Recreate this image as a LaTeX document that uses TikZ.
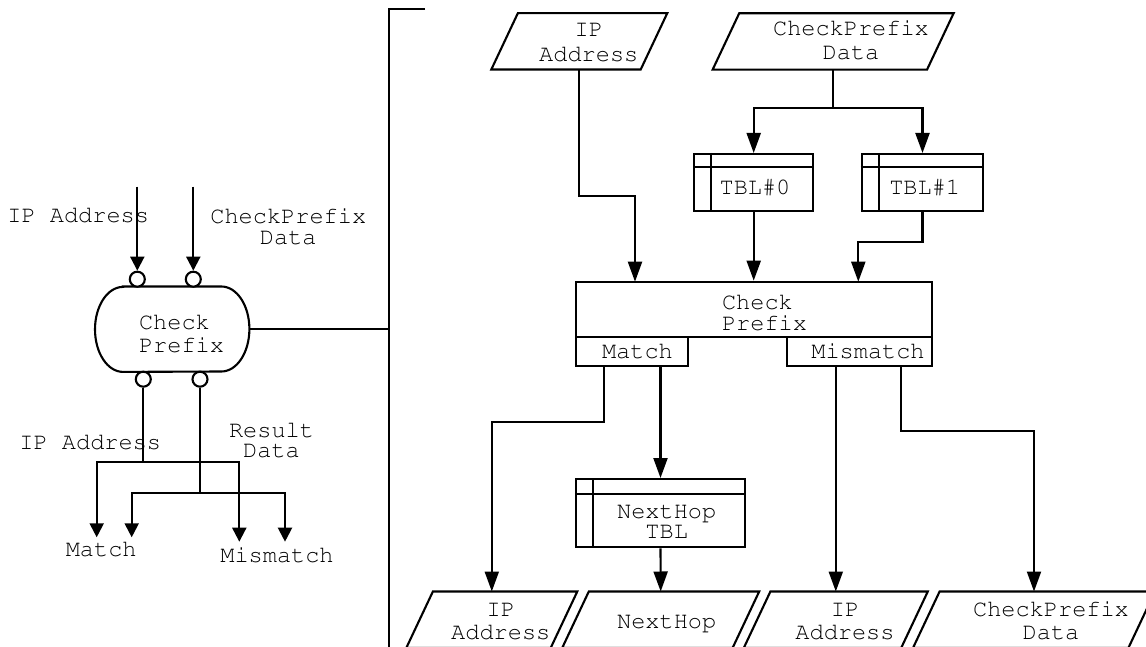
\documentclass[tikz,border=0pt]{standalone}
\usepackage[T1]{fontenc}
\usepackage{courier}
\usetikzlibrary{arrows.meta,calc}

\tikzset{
  lw/.style={line width=2.1pt},
  txt/.style={font=\ttfamily\fontsize{23.6pt}{#1}\selectfont, inner sep=0pt, align=center},
  txt/.default=22pt,
  lab/.style={font=\ttfamily\fontsize{23.6pt}{22pt}\selectfont, inner sep=0pt, anchor=base},
  procbox/.style={draw, lw, rectangle, inner sep=0pt},
  para/.style={rectangle, inner sep=0pt, minimum height=56pt},
  port/.style={draw, lw, circle, inner sep=0pt, minimum size=15pt, fill=white},
  arR/.style={lw, -{Triangle[length=20pt,width=14pt]}},
  arL/.style={lw, -{Triangle[length=14pt,width=14pt]}},
}

% slanted data box: name, centre, top-edge length
\newcommand\slantbox[3]{%
  \node[para, minimum width=#3] (#1) at (#2) {};
  \draw[lw] ([xshift=13.3pt]#1.north west) -- ([xshift=13.3pt]#1.north east)
    -- ([xshift=-13.3pt]#1.south east) -- ([xshift=-13.3pt]#1.south west) -- cycle;}

% table box with header strip and index column
\newcommand\tablebox[5]{%
  \node[procbox, minimum width=#3, minimum height=#4] (#1) at (#2) {};
  \draw[lw] ([yshift=-#5]#1.north west) -- ([yshift=-#5]#1.north east);
  \draw[lw] ([xshift=18pt]#1.north west) -- ([xshift=18pt]#1.south west);}

\begin{document}
\begin{tikzpicture}[x=1pt, y=-1pt]
\useasboundingbox (0,0) rectangle (1146,647);

% ---------- compact symbol on the left ----------
\node[rectangle, inner sep=0pt, minimum width=154pt, minimum height=85pt] (cpf) at (172.2,329.2) {};
\draw[lw] ([xshift=28pt]cpf.north west) -- ([xshift=-28pt]cpf.north east)
  arc[start angle=90, end angle=-90, x radius=28pt, y radius=42.5pt]
  -- ([xshift=28pt]cpf.south west)
  arc[start angle=270, end angle=90, x radius=28pt, y radius=42.5pt] -- cycle;
\node[txt=22.7pt, align=left] (cpf-t) at (181.5,333.9) {Check\\Prefix};

\node[port] (pin1) at (137.3,279.2) {};
\node[port] (pin2) at (193.3,279.2) {};
\node[port] (pout1) at (143.3,379.2) {};
\node[port] (pout2) at (200,379.2) {};

\coordinate (src1) at (137.3,186.7);
\coordinate (src2) at (193.3,186.7);
\draw[arL] (src1) -- (pin1.north);
\draw[arL] (src2) -- (pin2.north);

\node[lab] (lIP) at (78.2,223) {IP Address};
\node[txt=21pt] (lCP) at (288.3,226.4) {CheckPrefix\\Data};

\coordinate (j1) at (143.3,461.7);
\coordinate (j2) at (200,493.3);
\coordinate (m1) at (96.7,537.3);
\coordinate (m2) at (131.7,537.3);
\coordinate (x1) at (239.3,541.7);
\coordinate (x2) at (285,541.7);
\draw[lw] (pout1.south) -- (j1);
\draw[lw] (pout2.south) -- (j2);
\draw[arL] (j1) -| (m1);
\draw[arL] (j1) -| (x1);
\draw[arL] (j2) -| (m2);
\draw[arL] (j2) -| (x2);

\node[lab] (lIP2) at (90.3,449.3) {IP Address};
\node[txt=20pt] (lRD) at (271.5,440.5) {Result\\Data};
\node[lab] (lM) at (101.2,556.7) {Match};
\node[lab] (lMM) at (277,562.7) {Mismatch};

% bracket joining the symbol to its expansion
\coordinate (brt) at (425,9.3);
\coordinate (brc) at (389,9.3);
\coordinate (brb) at (389,660);
\draw[lw] (brt) -- (brc) -- (brb);
\draw[lw] (cpf.east) -- (cpf.east -| brc);

% ---------- expanded view ----------
\slantbox{ipA}{579.3,41.3}{149pt}
\node[txt=25pt] (ipA-t) at (588.8,42.5) {IP\\Address};
\slantbox{cpA}{833.1,41.5}{214pt}
\node[txt=23.3pt] (cpA-t) at (851,40.2) {CheckPrefix\\Data};

\tablebox{tb0}{753.7,182.4}{119.3pt}{56.7pt}{14.3pt}
\node[lab] (tb0-t) at (755,195) {TBL\#0};
\tablebox{tb1}{922.5,182.4}{121.6pt}{56.7pt}{14.3pt}
\node[lab] (tb1-t) at (924.7,195) {TBL\#1};

\node[procbox, minimum width=355.7pt, minimum height=55pt] (chk) at (753.85,309.2) {};
\node[txt=21pt, align=left] (chk-t) at (764.5,313) {Check\\Prefix};
\node[procbox, minimum width=112.3pt, minimum height=29pt] (mt) at (632.15,351.2) {};
\node[lab] (mt-t) at (637.5,358.3) {Match};
\node[procbox, minimum width=144.4pt, minimum height=29pt] (mm) at (859.5,351.2) {};
\node[lab] (mm-t) at (868,358.3) {Mismatch};

\tablebox{nh}{660.5,513.2}{169pt}{68.3pt}{16pt}
\node[txt=20pt] (nh-t) at (666.7,522.3) {NextHop\\TBL};

\slantbox{b1}{491.8,619.7}{144pt}
\node[txt=23.3pt] (b1-t) at (500.8,621.6) {IP\\Address};
\slantbox{b2}{660.7,619.7}{170pt}
\node[lab] (b2-t) at (666.7,628.3) {NextHop};
\slantbox{b3}{835.8,619.7}{157pt}
\node[txt=23.3pt] (b3-t) at (845,621.6) {IP\\Address};
\slantbox{b4}{1034,619.7}{215pt}
\node[txt=23.3pt] (b4-t) at (1051,620.9) {CheckPrefix\\Data};

% connectors
\coordinate (sp) at (833.1,108.3);
\draw[lw] (cpA.south) -- (sp);
\draw[arR] (sp) -| (tb0.north);
\draw[arR] (sp) -| (tb1.north);

\coordinate (bend1) at (635,195.7);
\coordinate (in1) at (635,281.7);
\draw[arR] (ipA.south) |- (bend1) -- (in1);
\draw[arR] (tb0.south) -- (tb0.south |- chk.north);
\coordinate (bend3) at (922.5,241.7);
\coordinate (in3) at (858.3,281.7);
\draw[arR] (tb1.south) -- (bend3) -| (in3);

\coordinate (bend4) at (491.8,422.3);
\draw[arR] ([xshift=-27.85pt]mt.south) |- (bend4) -- (b1.north);
\draw[arR] (mt.south -| nh.north) -- (nh.north);
\draw[arR] (nh.south) -- (b2.north);
\draw[arR] (mm.south -| b3.north) -- (b3.north);
\coordinate (bend5) at (1034,431);
\draw[arR] ([xshift=41.5pt]mm.south) |- (bend5) -- (b4.north);

\end{tikzpicture}
\end{document}
